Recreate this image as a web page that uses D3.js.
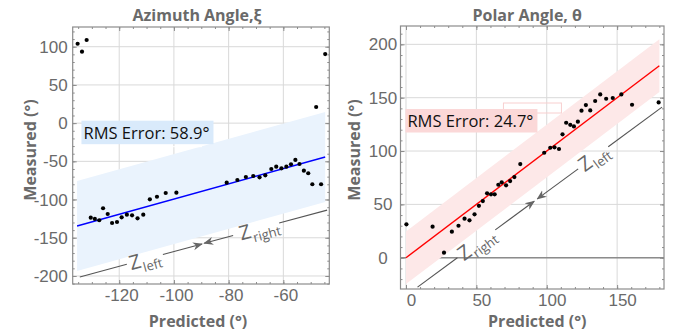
<!DOCTYPE html>
<html>
<head>
  <meta charset="utf-8">
  <script src="https://cdn.jsdelivr.net/npm/d3@7/dist/d3.min.js"></script>
  <style>
    html, body {
      margin: 0;
      background: #fff;
    }

    svg {
      font-family: "Open Sans", Lato, sans-serif;
      display: block;
    }

    .tick text {
      fill: #6a6a6a;
      font-size: 17px;
    }

    .title, .axis-label {
      fill: #6a6a6a;
      font-weight: bold;
      font-size: 16px;
    }
  </style>
</head>
<body>
  <div id="chart"></div>

  <script>
  // azimuth panel data
  var azPred = [-135.2, -133.6, -131.9, -48, -44.7,
    -130.4, -128.9, -127.3, -125.9, -124.2, -122.6, -120.8, -119.1, -117.2, -115.3, -113.3, -111.2,
    -108.8, -106.2, -103, -99.1,
    -80.7, -76.8, -73.7, -71, -68.7, -66.6, -64.4, -62.6, -60.7, -58.9, -57.2, -55.6, -54.1,
    -52.5, -50.9, -49.4, -46.2];
  var azMeas = [103.9, 93.5, 108.8, 21.1, 90.4,
    -123.7, -125.4, -127.1, -111.4, -118.9, -130.7, -129.4, -123.2, -119.8, -120.6, -124.5, -119.8,
    -99.7, -96.3, -91.4, -91,
    -77.9, -74.4, -70.5, -69.2, -70.9, -68.3, -60, -57, -59.1, -57, -53.9, -48.2, -53.5,
    -62.2, -65.6, -80, -80];
  var azFitX = [-135.4, -44.7],
      azFitY = [-134.6, -44.3],
      azRms = 58.9;
  var azXTicks = [-120, -100, -80, -60],
      azYTicks = [100, 50, 0, -50, -100, -150, -200];
  var azGuideX = [-134.4, -44],
      azGuideY = [-201.3, -113.8];

  // polar panel data
  var polPred = [0.3, 18.9, 27, 32.6, 37.3, 41.6, 45.1, 48.7, 51.8, 54.6, 57.6, 60.4, 63, 65.6,
    68, 71.1, 74, 77, 81.2, 98.2, 102.5, 105.5, 108.7, 111.2, 113.8, 116.7, 119.3, 122.1, 124.7,
    127.8, 130.9, 134.4, 138, 142.2, 146.9, 153, 160.6, 179.5];
  var polMeas = [31.3, 29.1, 4.7, 24.4, 30, 36.6, 35.1, 40.7, 48.7, 53.1, 60.4, 59.4, 59.4, 68.4,
    70.7, 67.9, 71.9, 75.6, 87.8, 98.4, 103.1, 103.5, 101.9, 115.7, 126.5, 124.6, 123.1, 127.5, 137.8,
    143.1, 138.1, 146.9, 153.1, 149, 149.7, 153.1, 143.4, 145.6];
  var polFitX = [0, 180],
      polFitY = [0, 180],
      polRms = 24.7;
  var polXTicks = [0, 50, 100, 150],
      polYTicks = [0, 50, 100, 150, 200];
  var polGuideX = [8.2, 181.9],
      polGuideY = [-27.5, 141.2];

  var svg = d3.select("#chart").append("svg")
      .attr("width", 696)
      .attr("height", 335);

  var defs = svg.append("defs");
  defs.append("marker")
      .attr("id", "arrow")
      .attr("viewBox", "0 0 10 10")
      .attr("refX", 9)
      .attr("refY", 5)
      .attr("markerWidth", 10)
      .attr("markerHeight", 10)
      .attr("markerUnits", "userSpaceOnUse")
      .attr("orient", "auto")
    .append("path")
      .attr("d", "M0,1 L10,5 L0,9 L3,5 z")
      .attr("fill", "#666");

  function drawPanel(cfg) {
    var x = d3.scaleLinear().domain(cfg.xDomain).range([cfg.left, cfg.right]),
        y = d3.scaleLinear().domain(cfg.yDomain).range([cfg.bottom, cfg.top]);

    var g = svg.append("g");

    // grid
    g.append("g").selectAll("line")
        .data(cfg.xTicks)
      .enter().append("line")
        .attr("x1", function(d) { return x(d); })
        .attr("x2", function(d) { return x(d); })
        .attr("y1", cfg.top)
        .attr("y2", cfg.bottom)
        .attr("stroke", "#d9d9d9");

    g.append("g").selectAll("line")
        .data(cfg.yTicks)
      .enter().append("line")
        .attr("x1", cfg.left)
        .attr("x2", cfg.right)
        .attr("y1", function(d) { return y(d); })
        .attr("y2", function(d) { return y(d); })
        .attr("stroke", "#d9d9d9");

    if (cfg.zeroLine) {
      g.append("line")
          .attr("x1", cfg.left)
          .attr("x2", cfg.right)
          .attr("y1", y(0))
          .attr("y2", y(0))
          .attr("stroke", "#8c8c8c")
          .attr("stroke-width", 1.6);
    }

    // error band and fit
    var band = d3.area()
        .x(function(d) { return x(d[0]); })
        .y0(function(d) { return y(d[1] - cfg.rms); })
        .y1(function(d) { return y(d[1] + cfg.rms); });

    var fit = d3.zip(cfg.fitX, cfg.fitY);

    g.append("path")
        .attr("d", band(fit))
        .attr("fill", cfg.bandColor);

    g.append("path")
        .attr("d", d3.line().x(function(d) { return x(d[0]); }).y(function(d) { return y(d[1]); })(fit))
        .attr("fill", "none")
        .attr("stroke", cfg.lineColor)
        .attr("stroke-width", 1.4);

    // Z guide with arrows
    var p0 = [x(cfg.guideX[0]), y(cfg.guideY[0])],
        p1 = [x(cfg.guideX[1]), y(cfg.guideY[1])];
    var at = function(t) { return [p0[0] + t * (p1[0] - p0[0]), p0[1] + t * (p1[1] - p0[1])]; };
    var angle = Math.atan2(p1[1] - p0[1], p1[0] - p0[0]) * 180 / Math.PI;

    cfg.guideSegs.forEach(function(s) {
      var a = at(s[0]), b = at(s[1]);
      g.append("line")
          .attr("x1", a[0]).attr("y1", a[1])
          .attr("x2", b[0]).attr("y2", b[1])
          .attr("stroke", "#555")
          .attr("stroke-width", 1.1);
    });

    cfg.guideArrows.forEach(function(s) {
      var a = at(s[0]), b = at(s[1]);
      g.append("line")
          .attr("x1", a[0]).attr("y1", a[1])
          .attr("x2", b[0]).attr("y2", b[1])
          .attr("stroke", "#555")
          .attr("stroke-width", 1.1)
          .attr("marker-end", "url(#arrow)");
    });

    cfg.guideLabels.forEach(function(l) {
      var p = at(l[1]);
      var t = g.append("text")
          .attr("transform", "translate(" + p[0] + "," + p[1] + ") rotate(" + angle + ")")
          .attr("y", 7)
          .attr("text-anchor", "middle")
          .attr("fill", "#666");
      t.append("tspan").attr("font-size", 20).text("Z");
      t.append("tspan").attr("font-size", 13).attr("dy", 5).attr("dx", 1).text(l[0]);
    });

    // points
    g.append("g").selectAll("circle")
        .data(d3.zip(cfg.pred, cfg.meas))
      .enter().append("circle")
        .attr("cx", function(d) { return x(d[0]); })
        .attr("cy", function(d) { return y(d[1]); })
        .attr("r", 2.1)
        .attr("fill", "#000");

    // RMS label
    var lab = g.append("g")
        .attr("transform", "translate(" + x(cfg.labelAt[0]) + "," + y(cfg.labelAt[1]) + ")");
    lab.append("rect")
        .attr("x", cfg.ghost[0])
        .attr("y", cfg.ghost[1])
        .attr("width", cfg.ghost[2])
        .attr("height", cfg.ghost[3])
        .attr("fill", "none")
        .attr("stroke", cfg.ghostColor);
    var box = lab.append("rect")
        .attr("fill", cfg.labelColor);
    var txt = lab.append("text")
        .attr("x", 2)
        .attr("y", 18)
        .attr("font-size", 16.5)
        .attr("fill", "#111")
        .text("RMS Error: " + cfg.rms + "°");
    var bb = txt.node().getBBox();
    box.attr("x", 0).attr("y", 0)
        .attr("width", bb.width + 6)
        .attr("height", 23.5);

    // axes (inward ticks on all four sides)
    function minorVals(scale, step) {
      var d = scale.domain(), lo = Math.min(d[0], d[1]), hi = Math.max(d[0], d[1]);
      return d3.range(Math.ceil(lo / step) * step, hi, step);
    }

    var bottom = g.append("g")
        .attr("transform", "translate(0," + cfg.bottom + ")")
        .call(d3.axisBottom(x).tickValues(cfg.xTicks).tickSize(-4).tickPadding(5)
          .tickFormat(function(d) { return String(d); }));
    bottom.selectAll("text").attr("dx", cfg.xLabelDx);
    g.append("g")
        .attr("transform", "translate(0," + cfg.bottom + ")")
        .call(d3.axisBottom(x).tickValues(minorVals(x, cfg.xMinor)).tickSize(-2).tickFormat(""));
    g.append("g")
        .attr("transform", "translate(0," + cfg.top + ")")
        .call(d3.axisTop(x).tickValues(cfg.xTicks).tickSize(-4).tickFormat(""));
    g.append("g")
        .attr("transform", "translate(0," + cfg.top + ")")
        .call(d3.axisTop(x).tickValues(minorVals(x, cfg.xMinor)).tickSize(-2).tickFormat(""));

    var leftAx = g.append("g")
        .attr("transform", "translate(" + cfg.left + ",0)")
        .call(d3.axisLeft(y).tickValues(cfg.yTicks).tickSize(-4).tickPadding(5)
          .tickFormat(function(d) { return String(d); }));
    if (cfg.yLabelCenter) {
      leftAx.selectAll("text").attr("text-anchor", "middle").attr("x", -cfg.yLabelCenter);
    }
    g.append("g")
        .attr("transform", "translate(" + cfg.left + ",0)")
        .call(d3.axisLeft(y).tickValues(minorVals(y, 10)).tickSize(-2).tickFormat(""));
    g.append("g")
        .attr("transform", "translate(" + cfg.right + ",0)")
        .call(d3.axisRight(y).tickValues(cfg.yTicks).tickSize(-4).tickFormat(""));
    g.append("g")
        .attr("transform", "translate(" + cfg.right + ",0)")
        .call(d3.axisRight(y).tickValues(minorVals(y, 10)).tickSize(-2).tickFormat(""));

    g.selectAll(".domain").remove();
    g.selectAll(".tick line").attr("stroke", "#8c8c8c");

    // frame
    g.append("rect")
        .attr("x", cfg.left)
        .attr("y", cfg.top)
        .attr("width", cfg.right - cfg.left)
        .attr("height", cfg.bottom - cfg.top)
        .attr("fill", "none")
        .attr("stroke", "#8c8c8c")
        .attr("stroke-width", 1.2);

    // titles
    var cx = (cfg.left + cfg.right) / 2;
    g.append("text")
        .attr("class", "title")
        .attr("x", cx + cfg.titleDx)
        .attr("y", 21)
        .attr("text-anchor", "middle")
        .text(cfg.title);

    g.append("text")
        .attr("class", "axis-label")
        .attr("x", cx + cfg.xTitleDx)
        .attr("y", 327)
        .attr("text-anchor", "middle")
        .text("Predicted (°)");

    g.append("text")
        .attr("class", "axis-label")
        .attr("transform", "translate(" + cfg.yTitleX + ",150) rotate(-90)")
        .attr("text-anchor", "middle")
        .text("Measured (°)");
  }

  drawPanel({
    title: "Azimuth Angle,ξ",
    pred: azPred, meas: azMeas,
    fitX: azFitX, fitY: azFitY, rms: azRms,
    xTicks: azXTicks, yTicks: azYTicks, xMinor: 5,
    xDomain: [-137, -43.2], yDomain: [-210.5, 125.8],
    left: 72.7, right: 329.3, top: 27, bottom: 284,
    bandColor: "#eaf3fd", lineColor: "#0000ff", labelColor: "#d9eafb",
    labelAt: [-133.8, 3.2], ghost: [63, 11, 57, 15], ghostColor: "#ffffff",
    guideX: azGuideX, guideY: azGuideY,
    guideSegs: [[0, 0.19], [0.806, 1]],
    guideArrows: [[0.336, 0.494], [0.62, 0.503]],
    guideLabels: [["left", 0.263], ["right", 0.725]],
    zeroLine: false,
    xLabelDx: 2, titleDx: -4, xTitleDx: -3, yTitleX: 36
  });

  drawPanel({
    title: "Polar Angle, θ",
    pred: polPred, meas: polMeas,
    fitX: polFitX, fitY: polFitY, rms: polRms,
    xTicks: polXTicks, yTicks: polYTicks, xMinor: 10,
    xDomain: [-3.9, 183.3], yDomain: [-29.3, 217.2],
    left: 400.5, right: 664, top: 26, bottom: 289,
    bandColor: "#fde8e8", lineColor: "#ff0000", labelColor: "#fbd8d8",
    labelAt: [-0.4, 139.4], ghost: [98, -6, 58, 10], ghostColor: "#f8cfcf",
    guideX: polGuideX, guideY: polGuideY,
    guideSegs: [[0, 0.163], [0.78, 1]],
    guideArrows: [[0.318, 0.477], [0.657, 0.49]],
    guideLabels: [["right", 0.24], ["left", 0.72]],
    zeroLine: true, yLabelCenter: 17.5,
    xLabelDx: 5, titleDx: -5, xTitleDx: 5, yTitleX: 360
  });
  </script>
</body>
</html>
